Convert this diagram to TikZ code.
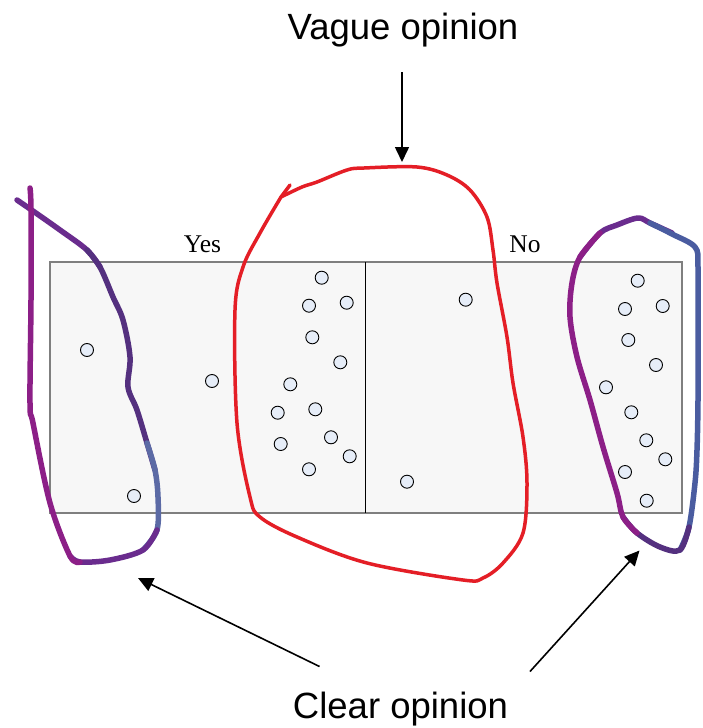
\documentclass[tikz,border=0pt]{standalone}
\usepackage{fontspec}
\newfontfamily\lblsans{Liberation Sans}
\newfontfamily\lblserif{Liberation Serif}
\usetikzlibrary{arrows.meta}
\definecolor{redloop}{HTML}{E41E26}
\definecolor{panelfill}{HTML}{F7F7F7}
\definecolor{panelline}{HTML}{7F7F7F}
\definecolor{dotfill}{HTML}{E6EDF8}
\definecolor{magA}{HTML}{8C1F87}
\definecolor{purB}{HTML}{6A2C8E}
\definecolor{purC}{HTML}{54307F}
\definecolor{bluD}{HTML}{5B6AA5}
\definecolor{bluE}{HTML}{4A5CA0}
\tikzset{
  dot/.style={circle,draw=black,line width=0.9pt,fill=dotfill,minimum size=13pt,inner sep=0pt},
  bigtext/.style={font=\lblsans\fontsize{36.5}{40}\selectfont,anchor=base,inner sep=0pt},
  headtext/.style={font=\lblserif\fontsize{25.5}{28}\selectfont,anchor=base,inner sep=0pt},
  arr/.style={line width=1.6pt,-{Triangle[length=15pt,width=14pt]}},
  glitter/.style={line width=5.5pt,line cap=round,line join=round},
  redline/.style={draw=redloop,line width=3.5pt,line cap=round,line join=round}
}
\begin{document}
\begin{tikzpicture}[x=1pt,y=-1pt]
\useasboundingbox (0,0) rectangle (702,728);
\fill[white] (0,0) rectangle (702,728);
\clip (0,0) rectangle (702,728);
% panel
\fill[panelfill] (50,262) rectangle (682,513);
\draw[panelline,line width=1.5pt] (50,262) rectangle (682,513);
\draw[black,line width=1pt] (365,262) -- (365,513);
\node[headtext] (yes) at (202.5,252) {Yes};
\node[headtext] (no) at (525,252) {No};
% dots
\foreach \n/\x/\y in {a1/87/350,a2/134/496,a3/212/381,
  b1/321.7/277.7,b2/309/305.7,b3/346.7/302.7,b4/312.3/337.3,b5/340.3/362.3,b6/290.3/384.3,
  b7/277.7/412.7,b8/315.3/409.3,b9/280.7/444,b10/331/437.3,b11/349.7/456.3,b12/309/469.3,
  c1/465.7/299.7,c2/407/481.7,
  d1/637.7/280.7,d2/625/309,d3/662.7/306,d4/628.3/340,d5/656/365,d6/606/387.3,
  d7/631.3/412.3,d8/646.3/440.3,d9/665.3/459.3,d10/625/472,d11/646.7/500.7}
  {\node[dot] (\n) at (\x,\y) {};}
% red loop (vague opinion)
\draw[redline] plot[smooth,tension=0.55] coordinates {(281,197) (302,187) (317,182) (347,170) (364,168) (417,167) (447,175) (470,190) (487,217) (493,250) (497,283) (507,337) (513,383) (523,437) (527,483) (523,533) (503,563) (483,578) (463,580) (367,563) (297,537) (260,517) (250,497) (237,423) (235,310) (243,267) (260,233) (281,197)};
\draw[redline] (281,197) -- (290,185);
% left glitter loop
\draw[glitter,draw=purB] plot[smooth,tension=0.55] coordinates {(17,200) (33,211) (60,230) (87,250) (100,267)};
\draw[glitter,draw=purC] plot[smooth,tension=0.55] coordinates {(87,250) (100,267) (113,297) (123,320) (130,357) (128,387) (137,410) (147,443) (155,470)};
\draw[glitter,draw=bluD] plot[smooth,tension=0.55] coordinates {(147,443) (155,470) (158,497) (157,530) (143,550)};
\draw[glitter,draw=purB] plot[smooth,tension=0.55] coordinates {(157,530) (143,550) (110,560) (80,562) (70,556)};
\draw[glitter,draw=magA] plot[smooth,tension=0.55] coordinates {(80,562) (70,556) (50,503) (33,423) (30,403) (31,300) (31,210) (30,188)};
% right glitter loop
\draw[glitter,draw=purB] plot[smooth,tension=0.55] coordinates {(580,257) (600,233) (617,225) (638,218) (650,223) (672,233)};
\draw[glitter,draw=bluE] plot[smooth,tension=0.55] coordinates {(650,223) (672,234) (695,247) (698,267) (698,330) (698,400) (697,450) (695,483) (689,527) (680,550)};
\draw[glitter,draw=purC] plot[smooth,tension=0.55] coordinates {(689,527) (680,550) (660,547) (637,533) (623,517)};
\draw[glitter,draw=magA] plot[smooth,tension=0.55] coordinates {(637,533) (623,517) (617,493) (603,447) (590,400) (577,357) (570,317) (572,283) (580,257) (600,233)};
% sparkles
\foreach \x/\y in {33,300/31,340/35,440/115,300/133,400/150,480/155,520/95,560/62,233/578,290/575,330/612,495/603,455/645,538/660,548/697,430/672,232/640,222}
  {\fill[white,opacity=0.7] (\x,\y) circle (1pt);}
% labels and arrows
\node[bigtext] (vague) at (403,39) {Vague opinion};
\node[bigtext] (clear) at (400.5,718) {Clear opinion};
\coordinate (vtail) at (402,72);
\coordinate (vtip) at (402,162);
\draw[arr] (vtail) -- (vtip);
\coordinate (ltail) at (319.5,666.5);
\coordinate (ltip) at (138,578);
\draw[arr] (ltail) -- (ltip);
\coordinate (rtail) at (530,671.5);
\coordinate (rtip) at (639.5,550.5);
\draw[arr] (rtail) -- (rtip);
\end{tikzpicture}
\end{document}
